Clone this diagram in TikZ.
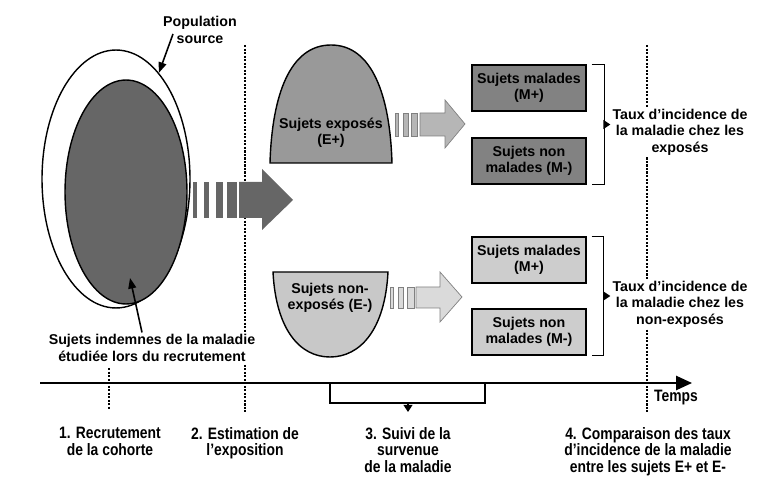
\documentclass[tikz,border=0pt]{standalone}
\usepackage{fontspec}
\setmainfont{Liberation Sans}
\newfontfamily\narrowsans[FakeStretch=0.84]{Liberation Sans}
\usetikzlibrary{arrows.meta, shapes.geometric, calc}
\definecolor{fillDark}{RGB}{102, 102, 102}
\definecolor{fillExp}{RGB}{153, 153, 153}
\definecolor{boxExp}{RGB}{130, 130, 130}
\definecolor{arrowExp}{RGB}{182, 182, 182}
\definecolor{fillNonExp}{RGB}{200, 200, 200}
\definecolor{boxNonExp}{RGB}{205, 205, 205}
\definecolor{arrowNonExp}{RGB}{218, 218, 218}

\begin{document}
\begin{tikzpicture}[x=0.02cm, y=-0.02cm,
    every node/.style={font=\bfseries\fontsize{8.1}{9.4}\selectfont, align=center, inner sep=1pt},
    mbox/.style={draw, line width=0.8pt, minimum width=2.28cm, minimum height=0.92cm},
    stage/.style={font=\narrowsans\bfseries\fontsize{9.4}{9.6}\selectfont, anchor=north},
    guide/.style={line width=0.6pt, dash pattern=on 1.2pt off 0.8pt},
    pointer/.style={line width=0.9pt, -{Triangle[length=6pt, width=4.5pt]}},
    bracket/.style={line width=0.8pt},
    tip/.style={line width=0.8pt, -{Triangle[length=4pt, width=5pt]}}]

  \useasboundingbox (0,0) rectangle (772,500);

  % reperes verticaux
  \draw[guide] (109,368) -- (109,410);
  \draw[guide] (245,45) -- (245,412);
  \draw[guide] (647,45) -- (647,412);

  % population source et cohorte
  \node[ellipse, draw, line width=0.8pt, fill=white, minimum width=2.96cm, minimum height=5.16cm] (source) at (116,179) {};
  \node[ellipse, draw, line width=0.8pt, fill=fillDark, minimum width=2.44cm, minimum height=4.48cm] (cohort) at (126,192) {};
  \node (popsrc) at (200,30) {Population\\source};
  \coordinate (popFoot) at (173,34);
  \draw[pointer] (popFoot) -- (source.68);
  \node[fill=white] (indemnes) at (152,348) {Sujets indemnes de la maladie\\étudiée lors du recrutement};
  \coordinate (cohortIn) at (130,278);
  \draw[pointer] ([xshift=-0.2cm]indemnes.north) -- (cohortIn);

  % grande fleche
  \foreach \a/\b in {193/197, 204/209, 216/223, 227/237}
    \fill[fillDark] (\a,182) rectangle (\b,218);
  \fill[fillDark] (239,182) -- (262,182) -- (262,169) -- (293,200) -- (262,230) -- (262,218) -- (239,218) -- cycle;

  % exposes / non-exposes
  \draw[line width=0.8pt, fill=fillExp] (270,163) .. controls (272,95) and (290,45) .. (331,45) .. controls (372,45) and (390,95) .. (392,163) -- cycle;
  \node (expo) at (331,133) {Sujets exposés\\(E+)};
  \draw[line width=0.8pt, fill=fillNonExp] (273,272) .. controls (276,330) and (300,357) .. (330,357) .. controls (360,357) and (385,330) .. (388,272) -- cycle;
  \node (nonexpo) at (330,298) {Sujets non-\\exposés (E-)};

  \foreach \a/\b in {395/398, 403/408, 411/417}
    \draw[gray, fill=arrowExp] (\a,113) rectangle (\b,136);
  \draw[gray, fill=arrowExp] (420,113) -- (445,113) -- (445,100) -- (465,124) -- (445,148) -- (445,136) -- (420,136) -- cycle;
  \foreach \a/\b in {390/393, 398/403, 407/414}
    \draw[gray, fill=arrowNonExp] (\a,287) rectangle (\b,308);
  \draw[gray, fill=arrowNonExp] (416,287) -- (440,287) -- (440,272) -- (462,297) -- (440,322) -- (440,308) -- (416,308) -- cycle;

  % malades / non malades
  \node[mbox, fill=boxExp] (mplusE) at (529,88) {Sujets malades\\(M+)};
  \node[mbox, fill=boxExp] (mminusE) at (529,161) {Sujets non\\malades (M-)};
  \node[mbox, fill=boxNonExp] (mplusN) at (529,260) {Sujets malades\\(M+)};
  \node[mbox, fill=boxNonExp] (mminusN) at (529,332) {Sujets non\\malades (M-)};

  \draw[bracket] ([xshift=0.1cm]mplusE.north east) -- ++(13,0) |- ([xshift=0.1cm]mminusE.south east);
  \draw[bracket] ([xshift=0.1cm]mplusN.north east) -- ++(12,0) |- ([xshift=0.1cm]mminusN.south east);
  \coordinate (bracketE) at ($([xshift=0.36cm]mplusE.north east)!0.5!([xshift=0.36cm]mminusE.south east)$);
  \coordinate (bracketN) at ($([xshift=0.34cm]mplusN.north east)!0.5!([xshift=0.34cm]mminusN.south east)$);

  \node[fill=white] (tauxE) at (680,132) {Taux d’incidence de\\la maladie chez les\\exposés};
  \node[fill=white] (tauxN) at (680,304) {Taux d’incidence de\\la maladie chez les\\non-exposés};
  \draw[tip] (bracketE) -- (tauxE.west |- bracketE);
  \draw[tip] (bracketN) -- (tauxN.west |- bracketN);

  % axe du temps
  \coordinate (tStart) at (40,383);
  \coordinate (tEnd) at (692,383);
  \draw[line width=1.1pt, -{Triangle[length=9pt, width=8pt]}] (tStart) -- (tEnd);
  \node[stage, anchor=center] (temps) at (676,398) {Temps};

  \coordinate (suiviL) at (330,383);
  \coordinate (suiviR) at (485,383);
  \draw[bracket] (suiviL) -- ++(0,20) -| (suiviR);
  \coordinate (suiviM) at (408,403);
  \draw[tip] (suiviM) -- ++(0,9);

  % etapes
  \node[stage] (etape1) at (110,425) {1. Recrutement\\de la cohorte};
  \node[stage] (etape2) at (245,425) {2. Estimation de\\l’exposition};
  \node[stage] (etape3) at (408,425) {3. Suivi de la\\survenue\\de la maladie};
  \node[stage] (etape4) at (648,425) {4. Comparaison des taux\\d’incidence de la maladie\\entre les sujets E+ et E-};
\end{tikzpicture}
\end{document}
